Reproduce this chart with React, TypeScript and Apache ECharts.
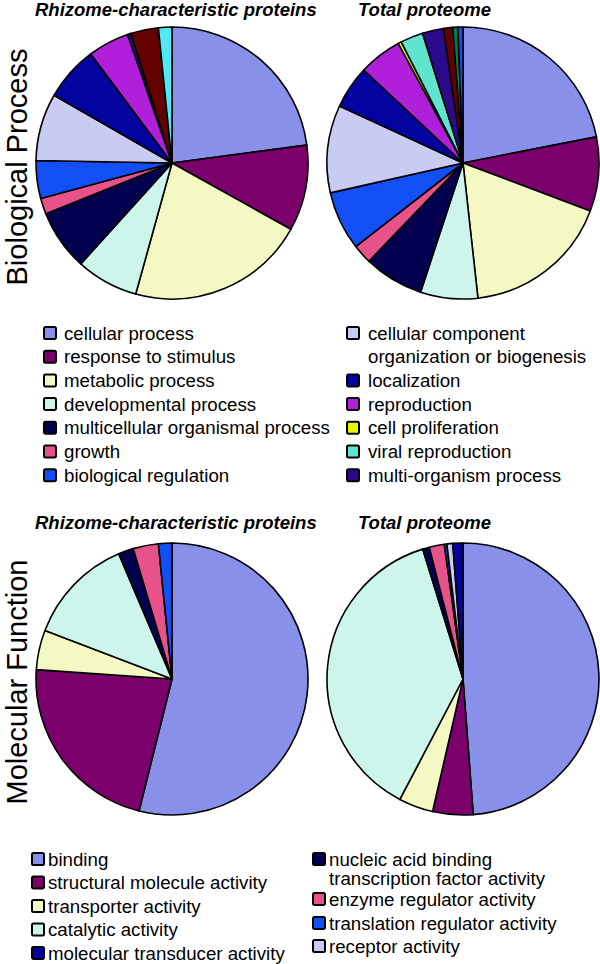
import React, { useEffect, useRef } from "react";
import * as echarts from "echarts";

// ---------- Biological Process ----------
const bpCategories = [
  "cellular process",
  "response to stimulus",
  "metabolic process",
  "developmental process",
  "multicellular organismal process",
  "growth",
  "biological regulation",
  "cellular component\norganization or biogenesis",
  "localization",
  "reproduction",
  "cell proliferation",
  "viral reproduction",
  "multi-organism process",
  "other (dark red)",
  "other (green)",
  "other (blue)",
  "other (cyan)",
];
const bpColors = [
  "#8890EA", "#7B006B", "#F4F9C3", "#CEF5EC", "#04004F", "#E8528A", "#1250F5",
  "#C9CBF2", "#0303A0", "#B020DA", "#E6F500", "#5FE5CF", "#2D0A8C",
  "#640000", "#00803C", "#0F4FF0", "#52E8F6",
];
const bpRhizome = [22.9, 10.2, 21.2, 7.4, 7.2, 1.9, 4.5, 8.0, 6.5, 4.9, 0, 0, 0.4, 3.3, 0, 0, 1.6];
const bpTotal = [21.9, 8.8, 17.5, 6.8, 7.1, 2.3, 7.0, 10.4, 5.1, 5.1, 0.4, 2.7, 2.5, 1.1, 0.6, 0.6, 0];
const bpLegendLeft = [0, 1, 2, 3, 4, 5, 6];
const bpLegendRight = [7, 8, 9, 10, 11, 12];

// ---------- Molecular Function ----------
const mfCategories = [
  "binding",
  "structural molecule activity",
  "transporter activity",
  "catalytic activity",
  "nucleic acid binding\ntranscription factor activity",
  "enzyme regulator activity",
  "translation regulator activity",
  "receptor activity",
  "molecular transducer activity",
];
const mfColors = [
  "#8890EA", "#7B006B", "#F4F9C3", "#CEF5EC", "#04004F", "#E8528A", "#1250F5", "#C9CBF2", "#0303A0",
];
const mfRhizome = [53.9, 22.2, 4.7, 12.8, 1.8, 3.0, 1.6, 0, 0];
const mfTotal = [48.9, 4.8, 4.1, 37.6, 0.8, 1.8, 0.3, 0.7, 1.2];
const mfLegendLeft = [0, 1, 2, 3, 8];
const mfLegendRight = [4, 5, 6, 7];

const panelTitles = ["Rhizome-characteristic proteins", "Total proteome"];
const sideTitles = ["Biological Process", "Molecular Function"];

const FONT = '"Liberation Sans", Arial, Helvetica, sans-serif';

function pieData(names: string[], colors: string[], vals: number[]) {
  return names
    .map((name, i) => ({ name, value: vals[i], itemStyle: { color: colors[i] } }))
    .filter((d) => d.value > 0);
}

function pieSeries(center: [number, number], data: any[]) {
  return {
    type: "pie",
    center,
    radius: 136,
    startAngle: 90,
    clockwise: true,
    silent: true,
    label: { show: false },
    labelLine: { show: false },
    emphasis: { disabled: true },
    itemStyle: { borderColor: "#000", borderWidth: 1.6 },
    data,
  };
}

function legendItems(
  names: string[],
  colors: string[],
  idx: number[],
  boxX: number,
  textX: number,
  rows: number[],
  lineH: number
) {
  const els: any[] = [];
  idx.forEach((ci, k) => {
    const cy = rows[k];
    els.push({
      type: "rect",
      shape: { x: boxX, y: cy - 6, width: 12, height: 12, r: 1.5 },
      style: { fill: colors[ci], stroke: "#000", lineWidth: 2 },
      silent: true,
    });
    els.push({
      type: "text",
      x: textX,
      y: cy - lineH / 2,
      style: {
        text: names[ci],
        font: `18.7px ${FONT}`,
        fill: "#000",
        align: "left",
        textAlign: "left",
        verticalAlign: "top",
        textVerticalAlign: "top",
        lineHeight: lineH,
      },
      silent: true,
    });
  });
  return els;
}

function titleText(text: string, x: number, y: number) {
  return {
    type: "text",
    x,
    y,
    style: {
      text,
      font: `italic bold 18.5px ${FONT}`,
      fill: "#000",
      align: "left",
      textAlign: "left",
      verticalAlign: "middle",
      textVerticalAlign: "middle",
    },
    silent: true,
  };
}

function sideText(text: string, x: number, y: number) {
  return {
    type: "text",
    x,
    y,
    rotation: Math.PI / 2,
    style: {
      text,
      font: `29px ${FONT}`,
      fill: "#000",
      align: "center",
      textAlign: "center",
      verticalAlign: "middle",
      textVerticalAlign: "middle",
    },
    silent: true,
  };
}

export default function App() {
  const ref = useRef<HTMLDivElement>(null);
  useEffect(() => {
    if (!ref.current) return;
    const chart = echarts.init(ref.current, undefined, { renderer: "svg" });
    const bpRows = [0, 1, 2, 3, 4, 5, 6].map((i) => 333 + i * 23.7);
    const bpRowsRight = [333, 380.4, 404.1, 427.8, 451.5, 475.2];
    const mfRows = [0, 1, 2, 3, 4].map((i) => 859 + i * 23.5);
    const mfRowsRight = [859, 899, 923, 946];

    const graphic: any[] = [
      titleText(panelTitles[0], 35, 9),
      titleText(panelTitles[1], 358, 9),
      titleText(panelTitles[0], 35, 522),
      titleText(panelTitles[1], 358, 522),
      sideText(sideTitles[0], 17, 167),
      sideText(sideTitles[1], 17, 682),
      ...legendItems(bpCategories, bpColors, bpLegendLeft, 44, 64, bpRows, 23.5),
      ...legendItems(bpCategories, bpColors, bpLegendRight, 347, 368, bpRowsRight, 23.5),
      ...legendItems(mfCategories, mfColors, mfLegendLeft, 32, 48, mfRows, 23.5),
      ...legendItems(mfCategories, mfColors, mfLegendRight, 313, 329, mfRowsRight, 19),
    ];

    chart.setOption({
      animation: false,
      backgroundColor: "#fff",
      series: [
        pieSeries([172, 163], pieData(bpCategories, bpColors, bpRhizome)),
        pieSeries([463, 163], pieData(bpCategories, bpColors, bpTotal)),
        pieSeries([172, 679], pieData(mfCategories, mfColors, mfRhizome)),
        pieSeries([463, 679], pieData(mfCategories, mfColors, mfTotal)),
      ],
      graphic,
    });
    return () => chart.dispose();
  }, []);
  return (
    <div
      ref={ref}
      style={{ position: "fixed", left: 0, top: 0, width: 600, height: 964, background: "#fff" }}
    />
  );
}
